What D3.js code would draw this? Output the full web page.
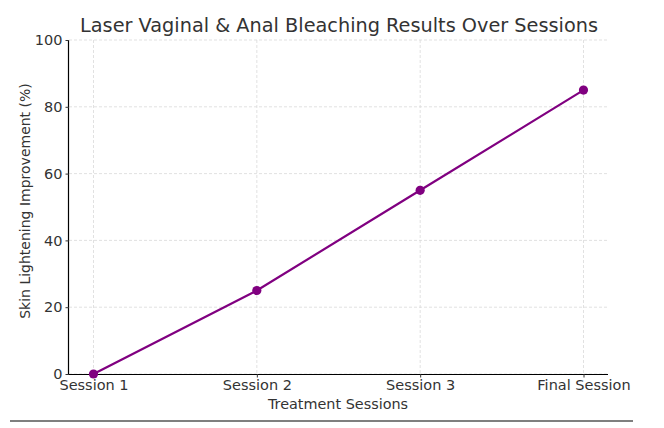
<!DOCTYPE html>
<html><head><meta charset="utf-8">
<script src="https://cdn.jsdelivr.net/npm/d3@7"></script>
<style>body{margin:0;background:#fff}svg{display:block}text{font-family:"DejaVu Sans",sans-serif}</style>
</head><body><svg id="c" width="664" height="428"></svg>
<script>
const categories = ["Session 1","Session 2","Session 3","Final Session"];
const values = [0,25,55,85];
const yTicks = [0,20,40,60,80,100];
const title = "Laser Vaginal & Anal Bleaching Results Over Sessions";
const xLabel = "Treatment Sessions";
const yLabel = "Skin Lightening Improvement (%)";

const svg = d3.select("#c");
const L=69,R=608,T=40,B=374;
const x = d3.scalePoint().domain(categories).range([L+24.5,R-24.5]);
const y = d3.scaleLinear().domain([0,100]).range([B,T]);

// grid
svg.append("g").selectAll("line").data(yTicks).join("line")
 .attr("x1",L).attr("x2",R).attr("y1",d=>y(d)).attr("y2",d=>y(d))
 .attr("stroke","#d9d9d9").attr("stroke-width",0.8).attr("stroke-dasharray","3,2");
svg.append("g").selectAll("line").data(categories).join("line")
 .attr("x1",d=>x(d)).attr("x2",d=>x(d)).attr("y1",T).attr("y2",B)
 .attr("stroke","#d9d9d9").attr("stroke-width",0.8).attr("stroke-dasharray","3,2");

// axes
const gx = svg.append("g").attr("transform",`translate(0,${B})`)
 .call(d3.axisBottom(x).tickSize(3.5).tickPadding(2));
gx.select(".domain").attr("d",`M${L},0.5H${R}`).attr("stroke","#000").attr("stroke-width",1.2);
gx.selectAll("text").attr("font-size",14.5).attr("fill","#333").attr("font-family","DejaVu Sans");
gx.selectAll(".tick line").attr("stroke","#333");
const gy = svg.append("g").attr("transform",`translate(${L},0)`)
 .call(d3.axisLeft(y).tickValues(yTicks).tickSize(3.5).tickPadding(3));
gy.select(".domain").attr("d",`M-0.5,${T}V${B}`).attr("stroke","#000").attr("stroke-width",1.2);
gy.selectAll("text").attr("font-size",14.5).attr("fill","#333").attr("font-family","DejaVu Sans");
gy.selectAll(".tick line").attr("stroke","#333");

// line
const pts = categories.map((c,i)=>({c,v:values[i]}));
svg.append("path").datum(pts)
 .attr("d",d3.line().x(d=>x(d.c)).y(d=>y(d.v)))
 .attr("fill","none").attr("stroke","#800080").attr("stroke-width",2.2);
svg.append("g").selectAll("circle").data(pts).join("circle")
 .attr("cx",d=>x(d.c)).attr("cy",d=>y(d.v)).attr("r",4.6).attr("fill","#800080");

// labels
svg.append("text").attr("x",339).attr("y",32).attr("text-anchor","middle")
 .attr("font-size",19.3).attr("fill","#333").text(title);
svg.append("text").attr("x",338).attr("y",409).attr("text-anchor","middle")
 .attr("font-size",14.4).attr("fill","#333").text(xLabel);
svg.append("text").attr("transform",`translate(30,201) rotate(-90)`).attr("text-anchor","middle")
 .attr("font-size",14).attr("fill","#333").text(yLabel);

// bottom rule
svg.append("line").attr("x1",10).attr("x2",633).attr("y1",421).attr("y2",421)
 .attr("stroke","#000").attr("stroke-width",1.2);
</script></body></html>
